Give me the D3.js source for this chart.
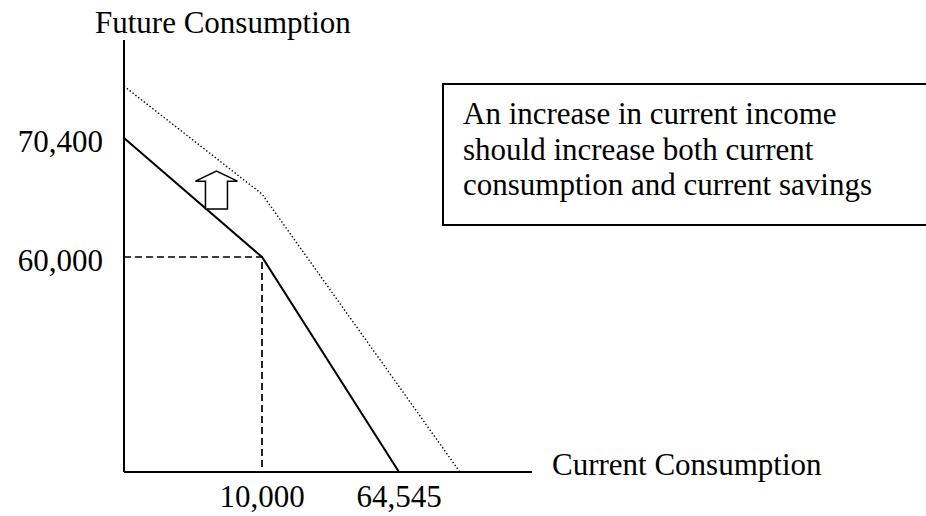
<!DOCTYPE html>
<html>
<head>
<meta charset="utf-8">
<script src="https://cdn.jsdelivr.net/npm/d3@7"></script>
<style>
  body { margin: 0; background: #fff; }
</style>
</head>
<body>
<svg width="926" height="516"></svg>
<script>
// budget lines (current consumption, future consumption)
let original = [[0, 70400], [10000, 60000], [64545, 0], [117500, 0]];
let shifted = [[0, 74950], [10000, 65500], [88800, 0]];
let endowment = [10000, 60000];

let xTicks = [10000, 64545];
let xTickLabels = ["10,000", "64,545"];
let yTicks = [70400, 60000];
let yTickLabels = ["70,400", "60,000"];

let xTitle = "Current Consumption";
let yTitle = "Future Consumption";
let note = ["An increase in current income",
            "should increase both current",
            "consumption and current savings"];

// arrow showing the shift: at x, from y0 up to y1
let arrowX = 6700;
let arrowFrom = 64200;
let arrowTo = 67500;

let serif = "'Liberation Serif', 'Times New Roman', serif";

let svg = d3.select("svg")
    .attr("font-family", serif);

// schematic, not to scale: piecewise linear scales
let x = d3.scaleLinear()
    .domain([0, 10000, 64545, 117500])
    .range([124, 262, 399, 532]);
let y = d3.scaleLinear()
    .domain([0, 60000, 70400, 79000])
    .range([472, 257, 138, 40]);

let line = d3.line().x((d) => x(d[0])).y((d) => y(d[1]));

// axes
svg.append("line")
    .attr("x1", x(0)).attr("y1", y(0))
    .attr("x2", x(0)).attr("y2", y(79000))
    .attr("stroke", "#000").attr("stroke-width", 2);
svg.append("line")
    .attr("x1", x(0)).attr("y1", y(0))
    .attr("x2", x(117500)).attr("y2", y(0))
    .attr("stroke", "#000").attr("stroke-width", 2);

// dashed guides to the endowment point
svg.append("path")
    .attr("d", line([[0, endowment[1]], endowment, [endowment[0], 0]]))
    .attr("fill", "none")
    .attr("stroke", "#000")
    .attr("stroke-width", 1.7)
    .attr("stroke-dasharray", "7,4");

// shifted budget line (dotted)
svg.append("path")
    .attr("d", line(shifted))
    .attr("fill", "none")
    .attr("stroke", "#000")
    .attr("stroke-width", 1.4)
    .attr("stroke-dasharray", "1.4,2.2");

// original budget line
svg.append("path")
    .attr("d", line(original))
    .attr("fill", "none")
    .attr("stroke", "#000")
    .attr("stroke-width", 2);

// hollow block arrow
let ax = x(arrowX), ab = y(arrowFrom), at = y(arrowTo);
let headW = 21, shaftW = 11, headH = 10;
svg.append("path")
    .attr("d", d3.line()([
        [ax - shaftW, ab], [ax - shaftW, at + headH], [ax - headW, at + headH],
        [ax, at], [ax + headW, at + headH], [ax + shaftW, at + headH],
        [ax + shaftW, ab]
    ]) + "Z")
    .attr("fill", "#fff")
    .attr("stroke", "#000")
    .attr("stroke-width", 1.5);

// tick labels
svg.selectAll(".ylab")
    .data(yTicks)
    .enter()
    .append("text")
    .attr("class", "ylab")
    .attr("x", x(0) - 21)
    .attr("y", (d) => y(d) + 14)
    .attr("text-anchor", "end")
    .attr("font-size", 31)
    .text((d, i) => yTickLabels[i]);

svg.selectAll(".xlab")
    .data(xTicks)
    .enter()
    .append("text")
    .attr("class", "xlab")
    .attr("x", (d) => x(d))
    .attr("y", y(0) + 35)
    .attr("text-anchor", "middle")
    .attr("font-size", 31)
    .text((d, i) => xTickLabels[i]);

// axis titles
svg.append("text")
    .attr("x", x(117500) + 20)
    .attr("y", y(0) + 3)
    .attr("font-size", 31)
    .text(xTitle);
svg.append("text")
    .attr("x", 95)
    .attr("y", 33)
    .attr("font-size", 31)
    .text(yTitle);

// note box
svg.append("rect")
    .attr("x", 443).attr("y", 84)
    .attr("width", 500).attr("height", 141)
    .attr("fill", "none")
    .attr("stroke", "#000")
    .attr("stroke-width", 2);

svg.selectAll(".note")
    .data(note)
    .enter()
    .append("text")
    .attr("class", "note")
    .attr("font-family", "Liberation Serif")
    .attr("font-size", 31)
    .attr("x", 463)
    .attr("y", (d, i) => 124 + i * 35.5)
    .text((d) => d);
</script>
</body>
</html>
